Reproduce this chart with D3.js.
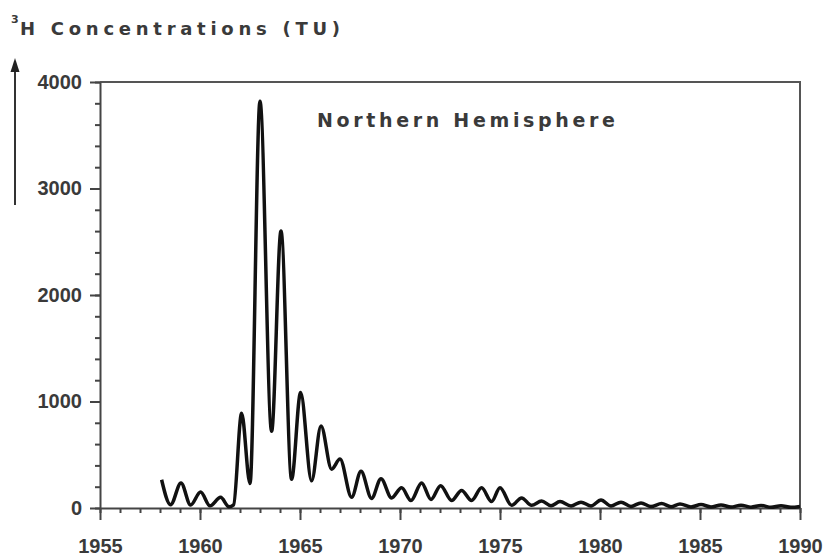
<!DOCTYPE html>
<html>
<head>
<meta charset="utf-8">
<script src="https://cdn.jsdelivr.net/npm/d3@7"></script>
<style>
  body { margin: 0; background: #fff; }
  svg { display: block; font-family: "Liberation Sans", Arial, sans-serif; }
  .axis path, .axis line { stroke: #444; stroke-width: 2; }
  .axis text { fill: #3a3a3a; font-size: 20px; font-weight: bold; }
  .lbl { font-family: "DejaVu Sans", sans-serif; font-weight: bold; fill: #3a3a3a; }
</style>
</head>
<body>
<svg id="chart" width="833" height="560"></svg>
<script>
// tritium in precipitation, northern hemisphere
var years = [1958.08, 1958.53, 1959.05, 1959.53, 1960.03, 1960.5, 1961.03, 1961.45, 1961.68,
             1962.08, 1962.5, 1963.0, 1963.58, 1964.05, 1964.58, 1965.03, 1965.58, 1966.05,
             1966.58, 1967.0, 1967.58, 1968.05, 1968.58, 1969.05, 1969.58, 1970.08, 1970.55,
             1971.08, 1971.55, 1972.03, 1972.58, 1973.08, 1973.58, 1974.08, 1974.58, 1975.0,
             1975.58, 1976.08, 1976.58, 1977.08, 1977.55, 1978.0, 1978.55, 1979.05, 1979.55,
             1980.05, 1980.55, 1981.05, 1981.55, 1982.05, 1982.55, 1983.08, 1983.55, 1984.0,
             1984.55, 1985.05, 1985.55, 1986.05, 1986.55, 1987.05, 1987.55, 1988.05, 1988.55,
             1989.05, 1989.55, 1990.0];
var tu = [265, 30, 235, 28, 150, 20, 100, 12, 30,
          890, 230, 3820, 720, 2600, 270, 1085, 255, 770,
          365, 460, 100, 345, 90, 275, 95, 190, 70,
          235, 80, 210, 70, 165, 70, 190, 60, 190,
          25, 95, 25, 65, 20, 60, 18, 55, 18,
          75, 18, 55, 15, 48, 14, 42, 12, 38,
          10, 32, 10, 28, 9, 26, 8, 24, 7,
          22, 6, 15];
var yMajor = [0, 1000, 2000, 3000, 4000];
var xMajor = [1955, 1960, 1965, 1970, 1975, 1980, 1985, 1990];

var svg = d3.select("#chart");
var mLeft = 100, mRight = 800, mTop = 82, mBottom = 508;

var x = d3.scaleLinear().domain([1955, 1990]).range([mLeft, mRight]);
var y = d3.scaleLinear().domain([0, 4000]).range([mBottom, mTop]);

// frame (top and right sides)
svg.append("path")
   .attr("d", "M" + mLeft + "," + mTop + "H" + mRight + "V" + mBottom)
   .attr("fill", "none").attr("stroke", "#555").attr("stroke-width", 2);

// minor ticks
svg.append("g").attr("class", "axis")
   .attr("transform", "translate(" + mLeft + ",0)")
   .call(d3.axisLeft(y).tickValues(d3.range(0, 4001, 200)).tickSize(5).tickFormat(""))
   .select(".domain").remove();
svg.append("g").attr("class", "axis")
   .attr("transform", "translate(0," + mBottom + ")")
   .call(d3.axisBottom(x).tickValues(d3.range(1955, 1991, 1)).tickSize(5).tickFormat(""))
   .select(".domain").remove();

// major ticks + labels
svg.append("g").attr("class", "axis")
   .attr("transform", "translate(" + mLeft + ",0)")
   .call(d3.axisLeft(y).tickValues(yMajor).tickSize(10).tickSizeOuter(0).tickPadding(8).tickFormat(d3.format("d")));
svg.append("g").attr("class", "axis")
   .attr("transform", "translate(0," + mBottom + ")")
   .call(d3.axisBottom(x).tickValues(xMajor).tickSize(12).tickSizeOuter(0).tickPadding(19).tickFormat(d3.format("d")));

// data line
var line = d3.line()
    .x(function(d, i) { return x(years[i]); })
    .y(function(d) { return y(d); })
    .curve(d3.curveMonotoneX);

svg.append("path")
   .datum(tu)
   .attr("d", line)
   .attr("fill", "none")
   .attr("stroke", "#111")
   .attr("stroke-width", 3.5)
   .attr("stroke-linejoin", "round");

// in-plot label
svg.append("text").attr("class", "lbl")
   .attr("x", 317).attr("y", 127)
   .attr("textLength", 298).attr("lengthAdjust", "spacing")
   .style("font-size", "19px")
   .text("Northern Hemisphere");

// y title with superscript
svg.append("text").attr("class", "lbl")
   .attr("x", 11).attr("y", 23)
   .style("font-size", "11px")
   .text("3");
svg.append("text").attr("class", "lbl")
   .attr("x", 20).attr("y", 35)
   .attr("textLength", 320).attr("lengthAdjust", "spacing")
   .style("font-size", "18px")
   .text("H Concentrations (TU)");

// arrow
svg.append("line")
   .attr("x1", 15).attr("y1", 205).attr("x2", 15).attr("y2", 70)
   .attr("stroke", "#333").attr("stroke-width", 2);
svg.append("path")
   .attr("d", "M15,58L10.5,72H19.5Z")
   .attr("fill", "#222");
</script>
</body>
</html>
